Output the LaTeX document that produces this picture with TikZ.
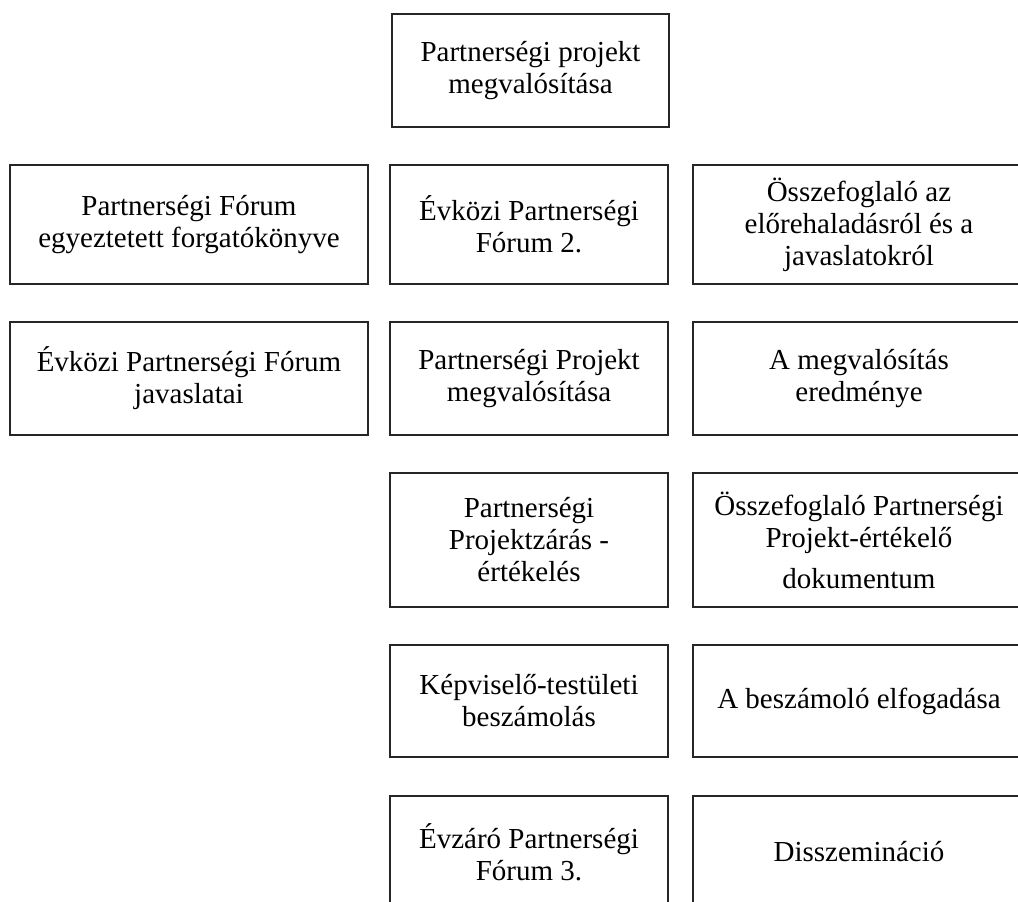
\documentclass[tikz,border=0pt]{standalone}
\usepackage{fontspec}
\setmainfont{Liberation Serif}
\usetikzlibrary{positioning}

\begin{document}
\begin{tikzpicture}[x=1pt,y=-1pt,
		box/.style={draw=black!85, line width=1.2pt, align=center, inner sep=0pt,
			font=\fontsize{29}{32}\selectfont},
		midbox/.style={box, minimum width=278pt},
		leftbox/.style={box, minimum width=358pt},
		rightbox/.style={box, minimum width=332pt}]
			%\draw[help lines] (0,0) grid[step=100] (1018,902);
			\path[use as bounding box, clip] (0,0) rectangle (1018,902);

			\node[box, minimum width=277pt, minimum height=113pt] (start) at (530.5,70.5) {Partnerségi projekt\\megvalósítása};

			\node[leftbox, minimum height=119pt] (forgatokonyv) at (189,224.5) {Partnerségi Fórum\\egyeztetett forgatókönyve};
			\node[midbox, minimum height=119pt] (forum2) at (529,224.5) {Évközi Partnerségi\\Fórum 2.};
			\node[rightbox, minimum height=119pt] (osszefoglalo) at (859,224.5) {Összefoglaló az\\előrehaladásról és a\\javaslatokról};

			\node[leftbox, minimum height=113pt] (javaslatok) at (189,378.5) {Évközi Partnerségi Fórum\\javaslatai};
			\node[midbox, minimum height=113pt] (megvalositas) at (529,378.5) {Partnerségi Projekt\\megvalósítása};
			\node[rightbox, minimum height=113pt] (eredmeny) at (859,378.5) {A megvalósítás\\eredménye};

			\node[midbox, minimum height=134pt] (zaras) at (529,540) {Partnerségi\\Projektzárás -\\értékelés};
			\node[rightbox, minimum height=134pt] (ertekelo) at (859,540) {Összefoglaló Partnerségi\\Projekt-értékelő\\[9pt]dokumentum};

			\node[midbox, minimum height=112pt] (beszamolas) at (529,701) {Képviselő-testületi\\beszámolás};
			\node[rightbox, minimum height=112pt] (elfogadas) at (859,701) {A beszámoló elfogadása};

			\node[midbox, minimum height=112pt] (forum3) at (529,852) {Évzáró Partnerségi\\Fórum 3.};
			\node[rightbox, minimum height=112pt] (disszeminacio) at (859,852) {Disszemináció};
		\end{tikzpicture}
\end{document}
